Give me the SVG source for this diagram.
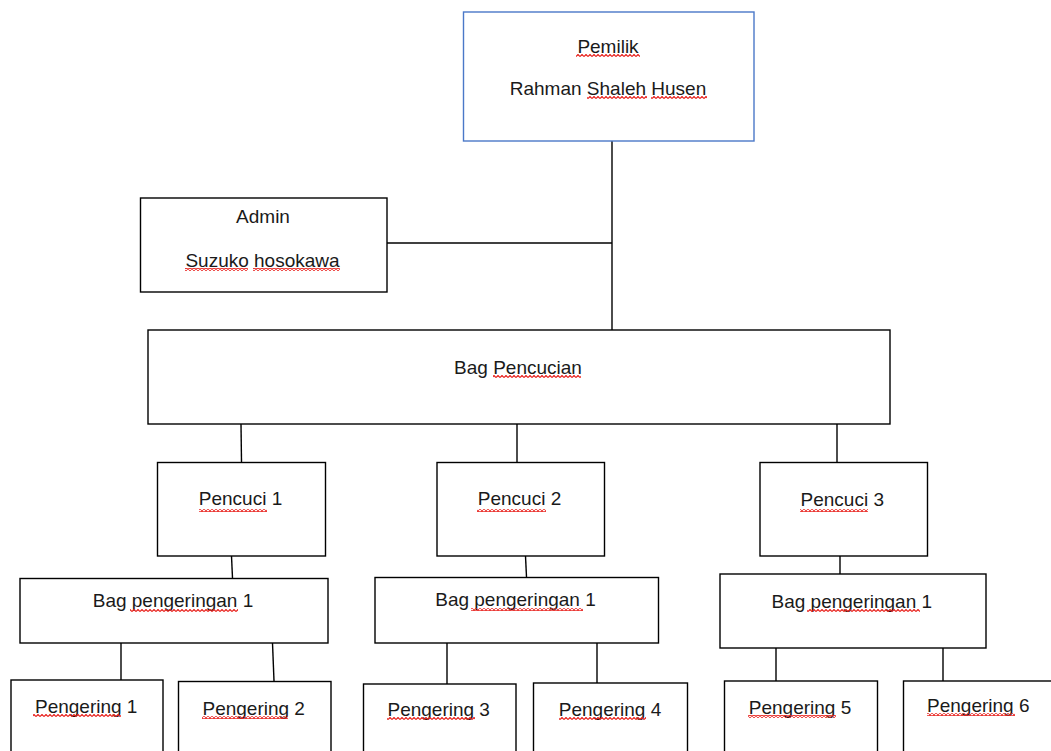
<svg xmlns="http://www.w3.org/2000/svg" width="1051" height="751" viewBox="0 0 1051 751">
<style>
.box{fill:#fff;stroke:#000;stroke-width:1.4}
.blue{fill:#fff;stroke:#4a78c8;stroke-width:1.4}
.t{font-family:"Liberation Sans",Arial,sans-serif;font-size:19px;fill:#1a1a1a;text-anchor:middle}
.ln{stroke:#000;stroke-width:1.4;fill:none}
.sq{fill:url(#squig)}
</style>
<defs>
<pattern id="squig" x="0" y="0" width="4" height="3" patternUnits="userSpaceOnUse">
<path d="M0,2.5 L2,0.5 L4,2.5" fill="none" stroke="#e8201c" stroke-width="1.2"/>
</pattern>
</defs>
<rect width="1051" height="751" fill="#fff"/>
<g id="connectors">
<path class="ln" d="M612,141 V330"/>
<path class="ln" d="M387,243 H612"/>
<path class="ln" d="M241,424 L241.5,462"/>
<path class="ln" d="M517,424 V462"/>
<path class="ln" d="M837,424 V462"/>
<path class="ln" d="M231.5,556 L232.5,578"/>
<path class="ln" d="M525.5,556 L526.5,577"/>
<path class="ln" d="M840,556 V574"/>
<path class="ln" d="M121,643 V680"/>
<path class="ln" d="M272.5,643 L274,681"/>
<path class="ln" d="M447,643 V684"/>
<path class="ln" d="M597,643 V683"/>
<path class="ln" d="M776,648 V681"/>
<path class="ln" d="M943,648 V681"/>
</g>
<g id="pemilik">
<rect class="blue" x="463.5" y="12" width="290.5" height="129"/>
<text class="t" x="608" y="53">Pemilik</text>
<text class="t" x="608" y="95">Rahman Shaleh Husen</text>
<rect class="sq" x="576" y="54" width="64" height="3"/>
<rect class="sq" x="587" y="96" width="60" height="3"/>
<rect class="sq" x="651" y="96" width="56" height="3"/>
</g>
<g id="admin">
<rect class="box" x="140.5" y="198" width="246.5" height="94"/>
<text class="t" x="263" y="223">Admin</text>
<text class="t" x="262.5" y="267">Suzuko hosokawa</text>
<rect class="sq" x="185" y="268" width="63" height="3"/>
<rect class="sq" x="253" y="268" width="87" height="3"/>
</g>
<g id="bag-pencucian">
<rect class="box" x="148" y="330" width="742" height="94"/>
<text class="t" x="518" y="374">Bag Pencucian</text>
<rect class="sq" x="493" y="375" width="88" height="3"/>
</g>
<g id="pencuci-1">
<rect class="box" x="157.5" y="462.5" width="168" height="93.5"/>
<text class="t" x="240.5" y="505">Pencuci 1</text>
<rect class="sq" x="199" y="509" width="68" height="3"/>
</g>
<g id="pencuci-2">
<rect class="box" x="437" y="462.5" width="167.5" height="93.5"/>
<text class="t" x="519.5" y="505">Pencuci 2</text>
<rect class="sq" x="477" y="509" width="69" height="3"/>
</g>
<g id="pencuci-3">
<rect class="box" x="760" y="462.5" width="167.5" height="93.5"/>
<text class="t" x="842.3" y="506">Pencuci 3</text>
<rect class="sq" x="800" y="509" width="68" height="3"/>
</g>
<g id="bag-pengeringan-a">
<rect class="box" x="20" y="578.5" width="308" height="64.5"/>
<text class="t" x="173" y="607">Bag pengeringan 1</text>
<rect class="sq" x="130" y="609" width="108" height="3"/>
</g>
<g id="bag-pengeringan-b">
<rect class="box" x="375" y="577.5" width="283.5" height="65.5"/>
<text class="t" x="515.5" y="606">Bag pengeringan 1</text>
<rect class="sq" x="471" y="608" width="112" height="3"/>
</g>
<g id="bag-pengeringan-c">
<rect class="box" x="720" y="574" width="266" height="74"/>
<text class="t" x="851.8" y="607.5">Bag pengeringan 1</text>
<rect class="sq" x="807" y="609" width="113" height="3"/>
</g>
<g id="pengering-1">
<rect class="box" x="11" y="680" width="152" height="80"/>
<text class="t" x="86.2" y="713">Pengering 1</text>
<rect class="sq" x="33" y="714" width="88" height="3"/>
</g>
<g id="pengering-2">
<rect class="box" x="178.5" y="681.5" width="152.5" height="80"/>
<text class="t" x="253.7" y="714.5">Pengering 2</text>
<rect class="sq" x="202" y="716" width="86" height="3"/>
</g>
<g id="pengering-3">
<rect class="box" x="363.5" y="684" width="152.5" height="80"/>
<text class="t" x="438.7" y="716">Pengering 3</text>
<rect class="sq" x="387" y="717" width="88" height="3"/>
</g>
<g id="pengering-4">
<rect class="box" x="533.5" y="683" width="154" height="80"/>
<text class="t" x="610" y="716">Pengering 4</text>
<rect class="sq" x="559" y="717" width="87" height="3"/>
</g>
<g id="pengering-5">
<rect class="box" x="724.5" y="681" width="153" height="80"/>
<text class="t" x="800" y="713.5">Pengering 5</text>
<rect class="sq" x="748" y="715" width="88" height="3"/>
</g>
<g id="pengering-6">
<rect class="box" x="903.5" y="681" width="160" height="80"/>
<text class="t" x="978.3" y="712">Pengering 6</text>
<rect class="sq" x="927" y="713" width="88" height="3"/>
</g>
</svg>
